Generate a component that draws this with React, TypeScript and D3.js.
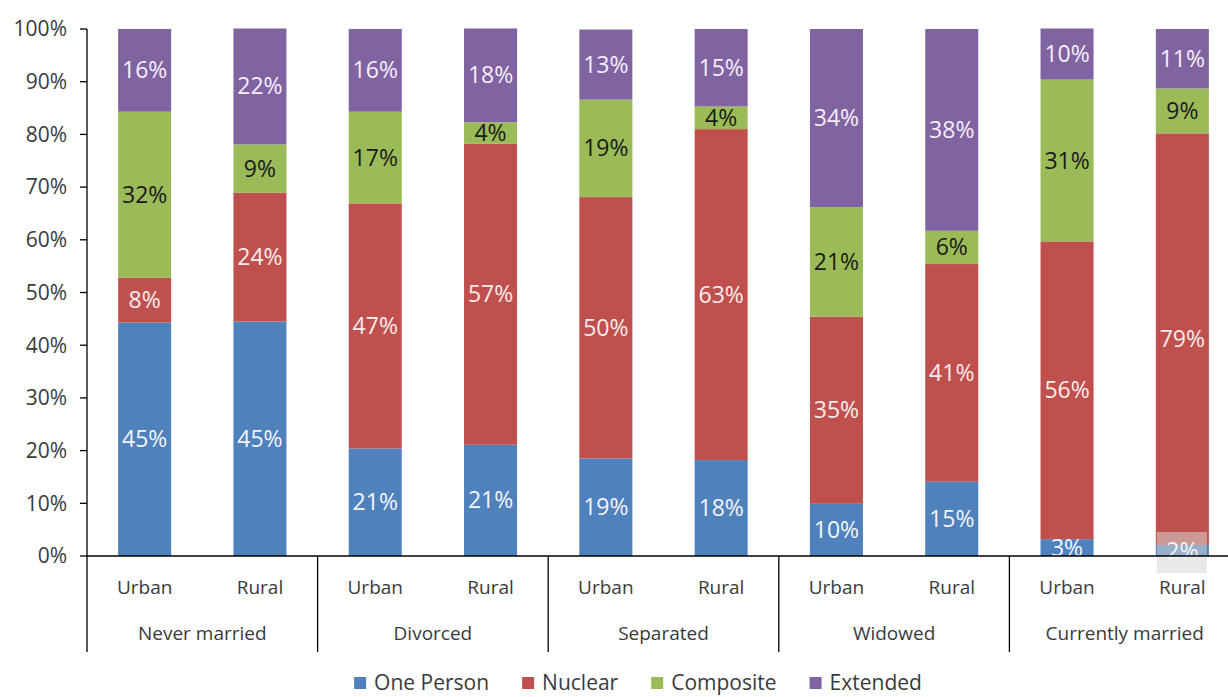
import React from "react";
import * as d3 from "d3";

// ---- data ----
const groups = ["Never married", "Divorced", "Separated", "Widowed", "Currently married"];
const areas = ["Urban", "Rural"];
const seriesNames = ["One Person", "Nuclear", "Composite", "Extended"];
const seriesColors = ["#4F81BD", "#C0504D", "#9BBB59", "#8064A2"];
const labelColors = ["#F4F4F8", "#F8ECEC", "#1A1A1A", "#F6EEF8"];

// share of each household type per bar (order: group x area)
const onePerson = [44.3, 44.5, 20.4, 21.1, 18.5, 18.2, 9.9, 14.1, 3.2, 2.1];
const nuclear = [8.5, 24.4, 46.5, 57.1, 49.6, 62.8, 35.5, 41.3, 56.5, 78.1];
const composite = [31.5, 9.2, 17.4, 4.1, 18.5, 4.3, 20.8, 6.3, 30.7, 8.5];
const extended = [15.7, 22.0, 15.7, 17.8, 13.3, 14.7, 33.8, 38.3, 9.7, 11.3];

// printed data labels
const onePersonLbl = [45, 45, 21, 21, 19, 18, 10, 15, 3, 2];
const nuclearLbl = [8, 24, 47, 57, 50, 63, 35, 41, 56, 79];
const compositeLbl = [32, 9, 17, 4, 19, 4, 21, 6, 31, 9];
const extendedLbl = [16, 22, 16, 18, 13, 15, 34, 38, 10, 11];

const yTicks = [0, 0.1, 0.2, 0.3, 0.4, 0.5, 0.6, 0.7, 0.8, 0.9, 1];

const W = 1228;
const H = 697;
const FONT = "'Open Sans', 'Noto Sans', sans-serif";

export default function App() {
  const left = 87;
  const right = 1240;
  const top = 29;
  const bottom = 556;

  const y = d3.scaleLinear().domain([0, 1]).range([bottom, top]);
  const xGroup = d3.scaleBand<string>().domain(groups).range([left, right]).padding(0);
  const xArea = d3
    .scaleBand<string>()
    .domain(areas)
    .range([0, xGroup.bandwidth()])
    .paddingInner(0.54)
    .paddingOuter(0.27);

  const valueSets = [onePerson, nuclear, composite, extended];
  const labelSets = [onePersonLbl, nuclearLbl, compositeLbl, extendedLbl];

  const rows = groups.flatMap((g, gi) =>
    areas.map((a, ai) => {
      const i = gi * areas.length + ai;
      const row: any = { group: g, area: a, idx: i };
      seriesNames.forEach((s, si) => (row[s] = valueSets[si][i] / 100));
      return row;
    })
  );

  const stacked = d3.stack().keys(seriesNames)(rows as any);

  // legend layout via text measurement
  const legendFontSize = 21;
  const legendFont = `${legendFontSize}px ${FONT}`;
  let widths: number[] = seriesNames.map((s) => s.length * 12);
  try {
    const ctx = document.createElement("canvas").getContext("2d");
    if (ctx) {
      ctx.font = legendFont;
      widths = seriesNames.map((s) => ctx.measureText(s).width);
    }
  } catch (e) {}
  const sq = 12;
  const gapText = 8;
  const gapItem = 33;
  const itemW = widths.map((w) => sq + gapText + w);
  const total = d3.sum(itemW) + gapItem * (seriesNames.length - 1);
  const legendCenter = 638;
  let lx = legendCenter - total / 2;
  const legendX = itemW.map((w) => {
    const x0 = lx;
    lx += w + gapItem;
    return x0;
  });
  const legendY = 683;

  const textFill = "#3A3A3A";

  const rural2 = rows[rows.length - 1];
  const rx = xGroup(rural2.group)! + xArea(rural2.area)!;

  return (
    <svg
      width={W}
      height={H}
      style={{ position: "absolute", left: 0, top: 0, background: "#fff" }}
      fontFamily={FONT}
    >
      <rect x={0} y={0} width={W} height={H} fill="#fff" />

      {/* bars */}
      {stacked.map((layer, si) => (
        <g key={seriesNames[si]} fill={seriesColors[si]}>
          {layer.map((d: any, i: number) => {
            const r = rows[i];
            const x = xGroup(r.group)! + xArea(r.area)!;
            return (
              <rect
                key={i}
                x={x}
                y={y(d[1])}
                width={xArea.bandwidth()}
                height={y(d[0]) - y(d[1])}
              />
            );
          })}
        </g>
      ))}

      {/* washed-out patch over the last bar base */}
      <rect x={rx + 1} y={532} width={xArea.bandwidth() - 3} height={41} fill="#D6D6D6" opacity={0.55} />

      {/* data labels */}
      {stacked.map((layer, si) => (
        <g key={"l" + si} fill={labelColors[si]} fontSize={23} textAnchor="middle">
          {layer.map((d: any, i: number) => {
            const r = rows[i];
            const cx = xGroup(r.group)! + xArea(r.area)! + xArea.bandwidth() / 2;
            const cy = (y(d[0]) + y(d[1])) / 2;
            return (
              <text key={i} x={cx} y={cy} dy="0.35em">
                {labelSets[si][i]}%
              </text>
            );
          })}
        </g>
      ))}

      {/* y axis */}
      <line x1={left} x2={left} y1={top} y2={bottom} stroke="#000" strokeWidth={1.3} />
      {yTicks.map((t) => (
        <g key={t}>
          <line x1={left - 7} x2={left} y1={y(t)} y2={y(t)} stroke="#000" strokeWidth={1.3} />
          <text x={67} y={y(t)} dy="0.35em" textAnchor="end" fontSize={21} fill={textFill}>
            {d3.format(".0%")(t)}
          </text>
        </g>
      ))}

      {/* x axis */}
      <line x1={left} x2={W} y1={bottom} y2={bottom} stroke="#000" strokeWidth={1.3} />
      {groups.map((g) => (
        <line
          key={"sep" + g}
          x1={xGroup(g)!}
          x2={xGroup(g)!}
          y1={bottom}
          y2={652}
          stroke="#000"
          strokeWidth={1.3}
        />
      ))}
      {rows.map((r, i) => (
        <text
          key={"a" + i}
          x={xGroup(r.group)! + xArea(r.area)! + xArea.bandwidth() / 2}
          y={587}
          dy="0.35em"
          textAnchor="middle"
          fontSize={19}
          fill={textFill}
        >
          {r.area}
        </text>
      ))}
      {groups.map((g) => (
        <text
          key={"g" + g}
          x={xGroup(g)! + xGroup.bandwidth() / 2}
          y={633}
          dy="0.35em"
          textAnchor="middle"
          fontSize={19}
          fill={textFill}
        >
          {g}
        </text>
      ))}

      {/* legend */}
      {seriesNames.map((s, si) => (
        <g key={"lg" + s}>
          <rect x={legendX[si]} y={legendY - sq / 2} width={sq} height={sq} fill={seriesColors[si]} />
          <text
            x={legendX[si] + sq + gapText}
            y={legendY}
            dy="0.35em"
            fontSize={legendFontSize}
            fill={textFill}
          >
            {s}
          </text>
        </g>
      ))}
    </svg>
  );
}
